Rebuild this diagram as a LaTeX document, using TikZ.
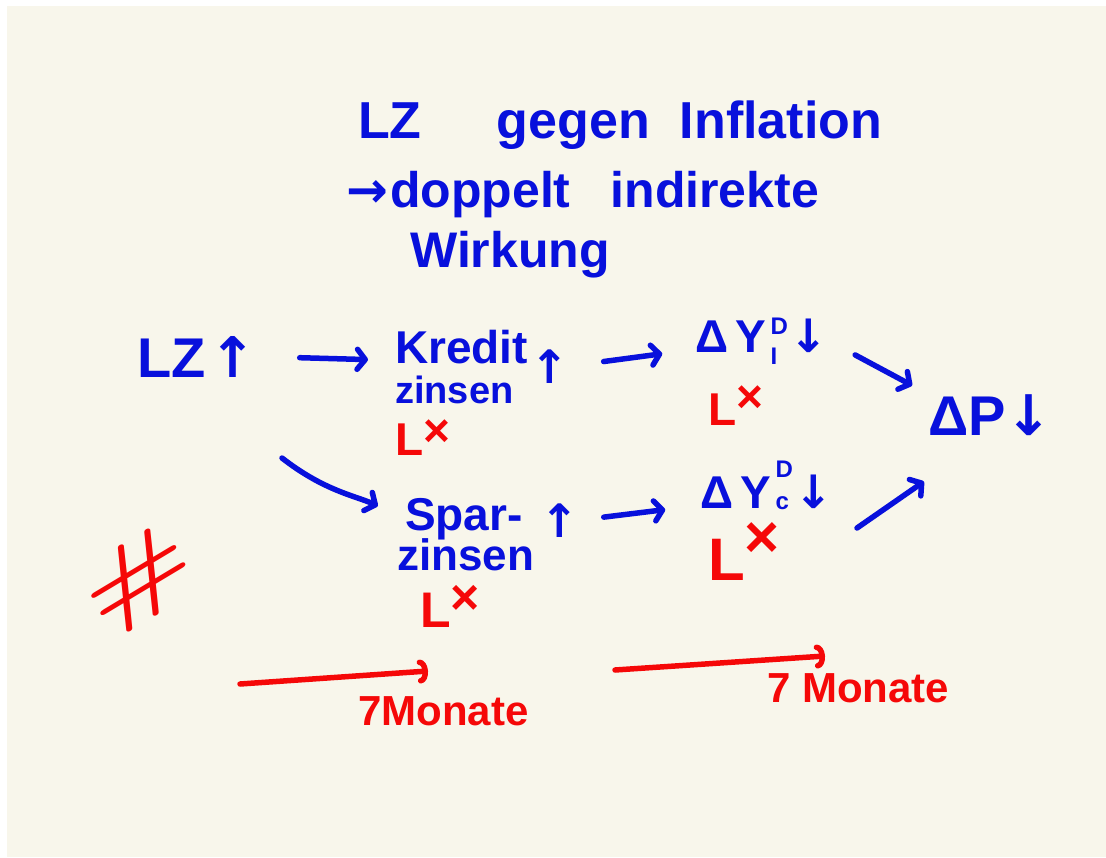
\documentclass[tikz,border=0pt]{standalone}
\usepackage{fontspec}
\setmainfont{Liberation Sans}
\newfontfamily\arrfont{DejaVu Sans}
\newfontfamily\lmfont{Latin Modern Roman}
\usetikzlibrary{arrows.meta}
\definecolor{pagebg}{RGB}{248,246,235}
\definecolor{inkblue}{RGB}{8,16,220}
\definecolor{inkred}{RGB}{245,8,8}
\newcommand{\fsz}[1]{\fontsize{#1}{#1}\selectfont}
\newcommand{\supsub}[4]{{\fsz{24}\rlap{\raisebox{#4}{#3}}\raisebox{#2}{#1}}}
\newcommand{\lagmark}[1][0.22em]{L\raisebox{#1}{×}}
\newcommand{\arr}[1]{{\arrfont\bfseries #1}}
\begin{document}
\begin{tikzpicture}[x=1pt,y=-1pt,
  bt/.style={text=inkblue,inner sep=0pt,anchor=base west,font=\bfseries\fsz{#1}},
  bt/.default=46,
  rt/.style={text=inkred,inner sep=0pt,anchor=base west,font=\bfseries\fsz{#1}},
  rt/.default=46,
  barrow/.style={draw=inkblue,line width=5.5pt,line cap=round,line join=round,
    -{Straight Barb[length=8pt,width=20pt,round]}},
  rarrow/.style={draw=inkred,line width=5.5pt,line cap=round,
    -{Arc Barb[length=8pt,width=24pt,round]}}]
\useasboundingbox (0,0) rectangle (1106,857);
\fill[white] (0,0) rectangle (1106,857);
\fill[pagebg] (7,6) rectangle (1106,857);

% title
\node[bt=52] (title1) at (358,138) {LZ\hspace{75pt}gegen\hspace{30pt}Inflation};
\node[bt=50] (title2) at (346,207) {\arr{→}\hspace{2pt}doppelt\hspace{40pt}indirekte};
\node[bt=50] (title3) at (410,267) {Wirkung};

% chain
\node[bt=56] (lz) at (137,377) {LZ\hspace{4pt}\arr{↑}};
\node[bt=46] (kred) at (395,363) {Kredit};
\node[bt=38] (kzin) at (395,403) {zinsen};
\node[bt=46] (kup) at (530,383) {\arr{↑}};
\node[bt=46] (dyi) at (695,352) {Δ\,Y\kern4pt\supsub{D}{18pt}{I}{-12pt}\kern2pt\arr{↓}};
\node[bt=56] (dp) at (928,435) {ΔP\arr{↓}};
\node[bt=46] (spar) at (405,530) {Spar-};
\node[bt=44] (szin) at (397,570) {zinsen};
\node[bt=46] (sup) at (540,537) {\arr{↑}};
\node[bt=46] (dyc) at (700,508) {Δ\,Y\kern4pt\supsub{D}{31pt}{c}{-1pt}\kern2pt\arr{↓}};

% lag marks
\node[rt=46] (lag1) at (395,455) {\lagmark[0.19em]};
\node[rt=46] (lag2) at (708,425) {\lagmark[0.27em]};
\node[rt=50] (lag3) at (420,627) {\lagmark[0.25em]};
\node[rt=60] (lag4) at (708,580) {\lagmark[0.37em]};
\begin{scope}[shift={(139,580)}]
\node[text=inkred,font=\lmfont\bfseries\fsz{80},inner sep=0pt,transform shape,xscale=1.3,yscale=1.3,yslant=0.6,xslant=-0.4] (hash) at (0,0) {\#};
\end{scope}

% connectors
\draw[barrow,shorten <=43pt,shorten >=27pt] (lz.east) -- (kred.mid west);
\draw[barrow,shorten <=35pt,shorten >=33pt] (kup.east) -- (dyi.mid west);
\draw[barrow,shorten <=30pt,shorten >=18pt] (dyi.east) -- (dp.north west);
\coordinate (lzlow) at (282,458);
\draw[barrow,shorten >=30pt] (lzlow) to[out=-38,in=155] (spar.west);
\draw[barrow,shorten <=25pt,shorten >=35pt] (sup.east) -- (dyc.mid west);
\coordinate (dyclow) at (857,528);
\draw[barrow,shorten >=81pt] (dyclow) -- (dp.south);

% time arrows
\coordinate (r1s) at (240,684);
\coordinate (r1e) at (428,671);
\draw[rarrow] (r1s) -- (r1e);
\node[rt=42] (mon1) at (358,725) {7Monate};
\coordinate (r2s) at (615,670);
\coordinate (r2e) at (825,656);
\draw[rarrow] (r2s) -- (r2e);
\node[rt=42] (mon2) at (767,702) {7 Monate};
\end{tikzpicture}
\end{document}
